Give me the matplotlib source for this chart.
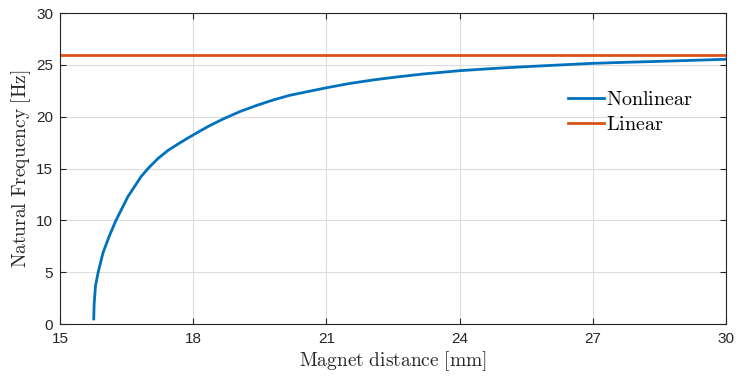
import matplotlib.pyplot as plt
import numpy as np

plt.rcParams['mathtext.fontset'] = 'cm'
plt.rcParams['font.family'] = ['Liberation Sans', 'DejaVu Sans']

# magnet distance [mm] and natural frequency [Hz]
distance = [15.76, 15.77, 15.80, 15.86, 15.97, 16.12, 16.26, 16.53, 16.83, 16.98,
            17.2, 17.43, 17.65, 17.88, 18.1, 18.35, 18.68, 19.05, 19.43, 19.8,
            20.18, 20.6, 21.0, 21.5, 22.06, 22.6, 23.18, 24.0, 24.75, 25.5,
            26.25, 27.0, 27.75, 28.5, 29.25, 30.0]
nonlinear = [0.5, 2.0, 3.7, 5.0, 6.9, 8.6, 10.0, 12.3, 14.25, 15.0,
             15.95, 16.75, 17.35, 17.95, 18.5, 19.1, 19.8, 20.5, 21.1, 21.62,
             22.08, 22.45, 22.8, 23.2, 23.56, 23.85, 24.13, 24.45, 24.66, 24.84,
             25.0, 25.16, 25.26, 25.35, 25.45, 25.55]
linear_freq = 26.0

blue = '#0072BD'
orange = '#D95319'

fig = plt.figure(figsize=(7.37, 3.76), dpi=100)
ax = fig.add_axes([0.0814, 0.138, 0.9036, 0.827])

ax.plot(distance, nonlinear, color=blue, lw=2, label='Nonlinear')
ax.plot([15, 30], [linear_freq, linear_freq], color=orange, lw=2, label='Linear')

ax.set_xlim(15, 30)
ax.set_ylim(0, 30)
ax.set_xticks([15, 18, 21, 24, 27, 30])
ax.set_yticks([0, 5, 10, 15, 20, 25, 30])

ax.grid(True, color='#dcdcdc', lw=0.8)
ax.set_axisbelow(True)
ax.tick_params(direction='in', top=True, right=True, labelsize=11, colors='#262626',
               length=4, width=0.8, pad=5)
ax.tick_params(axis='x', pad=6)
for s in ax.spines.values():
    s.set_color('#262626')
    s.set_linewidth(0.8)

ax.set_xlabel(r'$\mathrm{Magnet\ distance\ [mm]}$', fontsize=14, color='#262626', labelpad=2)
ax.set_ylabel(r'$\mathrm{Natural\ Frequency\ [Hz]}$', fontsize=14, color='#262626', labelpad=2)

leg = ax.legend(loc='upper right', bbox_to_anchor=(0.963, 0.78), frameon=False,
                handlelength=1.8, handletextpad=0.1, borderaxespad=0,
                labelspacing=0.3, prop={'size': 14.5})
for t in leg.get_texts():
    t.set_text(r'$\mathrm{' + t.get_text() + '}$')

plt.savefig('out.png', dpi=100)
